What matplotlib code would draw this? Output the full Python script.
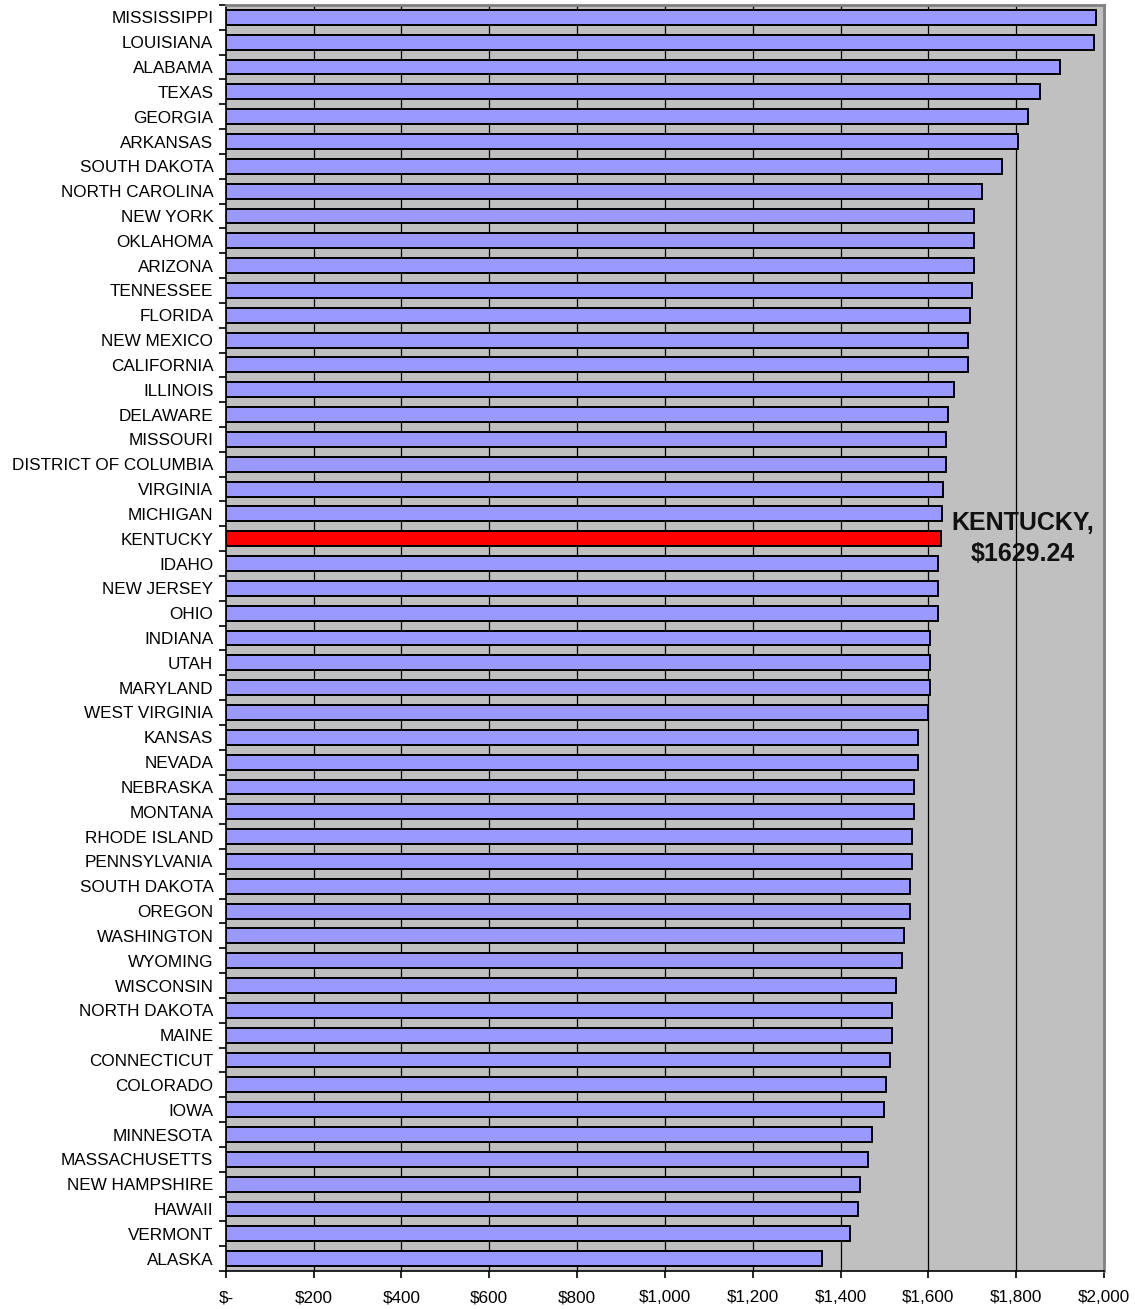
import matplotlib.pyplot as plt
import numpy as np
from matplotlib.ticker import FixedLocator, FuncFormatter

plt.rcParams['font.family'] = ['Liberation Sans', 'DejaVu Sans']

states = ['MISSISSIPPI', 'LOUISIANA', 'ALABAMA', 'TEXAS', 'GEORGIA', 'ARKANSAS',
          'SOUTH DAKOTA', 'NORTH CAROLINA', 'NEW YORK', 'OKLAHOMA', 'ARIZONA',
          'TENNESSEE', 'FLORIDA', 'NEW MEXICO', 'CALIFORNIA', 'ILLINOIS',
          'DELAWARE', 'MISSOURI', 'DISTRICT OF COLUMBIA', 'VIRGINIA', 'MICHIGAN',
          'KENTUCKY', 'IDAHO', 'NEW JERSEY', 'OHIO', 'INDIANA', 'UTAH', 'MARYLAND',
          'WEST VIRGINIA', 'KANSAS', 'NEVADA', 'NEBRASKA', 'MONTANA', 'RHODE ISLAND',
          'PENNSYLVANIA', 'SOUTH DAKOTA', 'OREGON', 'WASHINGTON', 'WYOMING',
          'WISCONSIN', 'NORTH DAKOTA', 'MAINE', 'CONNECTICUT', 'COLORADO', 'IOWA',
          'MINNESOTA', 'MASSACHUSETTS', 'NEW HAMPSHIRE', 'HAWAII', 'VERMONT', 'ALASKA']
costs = [1982, 1977, 1900, 1854, 1827, 1804, 1768, 1722, 1704, 1704, 1704,
         1699, 1695, 1690, 1690, 1658, 1645, 1640, 1640, 1633, 1631,
         1629.24, 1622, 1621, 1621, 1603, 1603, 1603, 1599, 1576, 1576, 1567,
         1567, 1563, 1563, 1558, 1558, 1544, 1540, 1526, 1517, 1517, 1513,
         1503, 1499, 1472, 1462, 1444, 1440, 1421, 1358]
highlight = 'KENTUCKY'
xticks = [0, 200, 400, 600, 800, 1000, 1200, 1400, 1600, 1800, 2000]

fig = plt.figure(figsize=(11.35, 13.09), dpi=100)
ax = fig.add_axes([0.199, 0.029, 0.7737, 0.9672])
ax.set_facecolor('#C0C0C0')

n = len(states)
y = np.arange(n)
colors = ['#FF0000' if s == highlight else '#9999FF' for s in states]
ax.barh(y, costs, height=0.6, color=colors, edgecolor='black', linewidth=1.4, zorder=3)

ax.set_xlim(0, 2000)
ax.set_ylim(n - 0.5, -0.5)
ax.xaxis.set_major_locator(FixedLocator(xticks))
ax.xaxis.set_major_formatter(FuncFormatter(lambda v, p: '$-' if v == 0 else '${:,.0f}'.format(v)))
for v in xticks[1:-1]:
    ax.axvline(v, color='black', linewidth=0.9, zorder=1)

ax.set_yticks(y)
ax.set_yticklabels(states)
ax.set_yticks(np.arange(n + 1) - 0.5, minor=True)
ax.tick_params(axis='y', which='major', length=0, pad=9, labelsize=12.3, colors='black')
ax.tick_params(axis='y', which='minor', length=5, width=1.2, direction='out')
ax.tick_params(axis='x', length=5, width=1.2, direction='out', pad=9, labelsize=12.3)

for side in ['top', 'right']:
    ax.spines[side].set_color('#808080')
    ax.spines[side].set_linewidth(2)
for side in ['left', 'bottom']:
    ax.spines[side].set_color('black')
    ax.spines[side].set_linewidth(1.2)

k = states.index(highlight)
ax.text(1815, k, '{},\n${:.2f}'.format(highlight, costs[k]), ha='center', va='center',
        fontsize=18, fontweight='bold', linespacing=1.35, color='#111111', zorder=4)

fig.savefig('out.png', dpi=100)
